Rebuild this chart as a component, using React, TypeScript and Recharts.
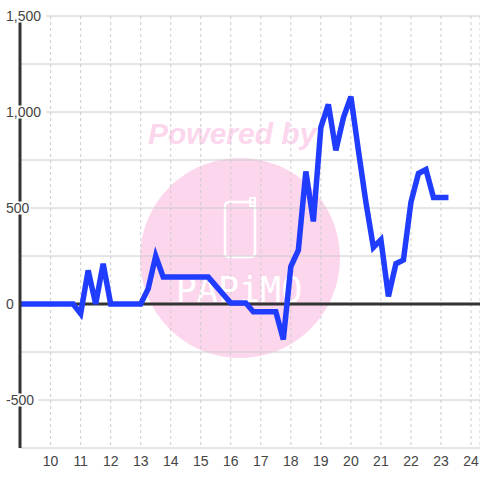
import React from 'react';
import { CartesianGrid, Line, LineChart, ReferenceLine, XAxis, YAxis } from 'recharts';

// hour of day (vertices of the trace)
const HOURS = [
    9, 10.75, 11, 11.25, 11.5, 11.75, 12, 13, 13.25, 13.5, 13.75, 15.25, 16, 16.5, 16.75, 17.5,
    17.75, 18, 18.25, 18.5, 18.75, 19, 19.25, 19.5, 19.75, 20, 20.25, 20.5, 20.75, 21, 21.25,
    21.5, 21.75, 22, 22.25, 22.5, 22.75, 23.25,
];
const VALUES = [
    0, 0, -50, 175, 0, 210, 0, 0, 80, 250, 140, 140, 5, 5, -40, -40, -185, 195, 280, 690, 430,
    920, 1040, 800, 970, 1080, 800, 530, 295, 335, 40, 210, 230, 530, 680, 700, 555, 555,
];
const X_TICKS = [10, 11, 12, 13, 14, 15, 16, 17, 18, 19, 20, 21, 22, 23, 24];
const Y_TICKS = [-750, -500, -250, 0, 250, 500, 750, 1000, 1250, 1500];
const Y_LABELED = [-500, 0, 500, 1000, 1500];

const data = HOURS.map((h, i) => ({ h, v: VALUES[i] }));

const FONT = '"Liberation Sans", Arial, sans-serif';

function YTick(props: any) {
    const { x, y, payload } = props;
    if (!Y_LABELED.includes(payload.value)) return null;
    const label = payload.value.toLocaleString('en-US');
    const w = label.length * 7.6 + 3;
    return (
        <g>
            <rect x={x - 15} y={y - 6.5} width={w} height={13} fill="#fff" />
            <text x={x - 14} y={y} dy="0.36em" textAnchor="start" fontSize={14} fontFamily={FONT} fill="#444">
                {label}
            </text>
        </g>
    );
}

function Watermark() {
    return (
        <svg width={480} height={480} style={{ position: 'absolute', left: 0, top: 0 }}>
            <circle cx={240} cy={258} r={100} fill="#fcd6ec" />
            <text
                x={148}
                y={144}
                fontSize={30}
                fontWeight="bold"
                fontStyle="italic"
                fontFamily={FONT}
                fill="#fcd6ec"
            >
                Powered by
            </text>
            <rect x={225} y={202} width={30} height={55} rx={4} fill="none" stroke="#fff" strokeWidth={2.5} />
            <rect x={250} y={198} width={5} height={8} fill="none" stroke="#fff" strokeWidth={2} />
            <text
                x={239}
                y={302}
                textAnchor="middle"
                fontSize={35}
                fontFamily='"DejaVu Sans Mono", monospace'
                fill="#fff"
            >
                PAPiMO
            </text>
        </svg>
    );
}

export default function App() {
    return (
        <div style={{ position: 'absolute', left: 0, top: 0, width: 480, height: 480, background: '#fff' }}>
            <Watermark />
            <div style={{ position: 'absolute', left: 0, top: 0 }}>
                <LineChart width={480} height={480} data={data} margin={{ top: 16, right: 0, bottom: 0, left: 0 }}>
                    <CartesianGrid vertical={false} stroke="#cccccc" />
                    <CartesianGrid horizontal={false} stroke="#cccccc" strokeDasharray="3 3" />
                    <XAxis
                        dataKey="h"
                        type="number"
                        domain={[8.98, 24.3]}
                        ticks={X_TICKS}
                        allowDataOverflow
                        axisLine={false}
                        tickLine={false}
                        tickSize={0}
                        tickMargin={8}
                        height={32}
                        interval={0}
                        tick={{ fontSize: 14, fontFamily: FONT, fill: '#444' }}
                    />
                    <YAxis
                        type="number"
                        domain={[-750, 1500]}
                        ticks={Y_TICKS}
                        allowDataOverflow
                        width={20}
                        interval={0}
                        tickLine={false}
                        tickSize={0}
                        tickMargin={0}
                        axisLine={{ stroke: '#333', strokeWidth: 3 }}
                        tick={<YTick />}
                    />
                    <ReferenceLine y={0} stroke="#333" strokeWidth={3} />
                    <Line
                        type="linear"
                        dataKey="v"
                        stroke="#1f3cff"
                        strokeWidth={5.5}
                        dot={false}
                        activeDot={false}
                        isAnimationActive={false}
                    />
                </LineChart>
            </div>
        </div>
    );
}
